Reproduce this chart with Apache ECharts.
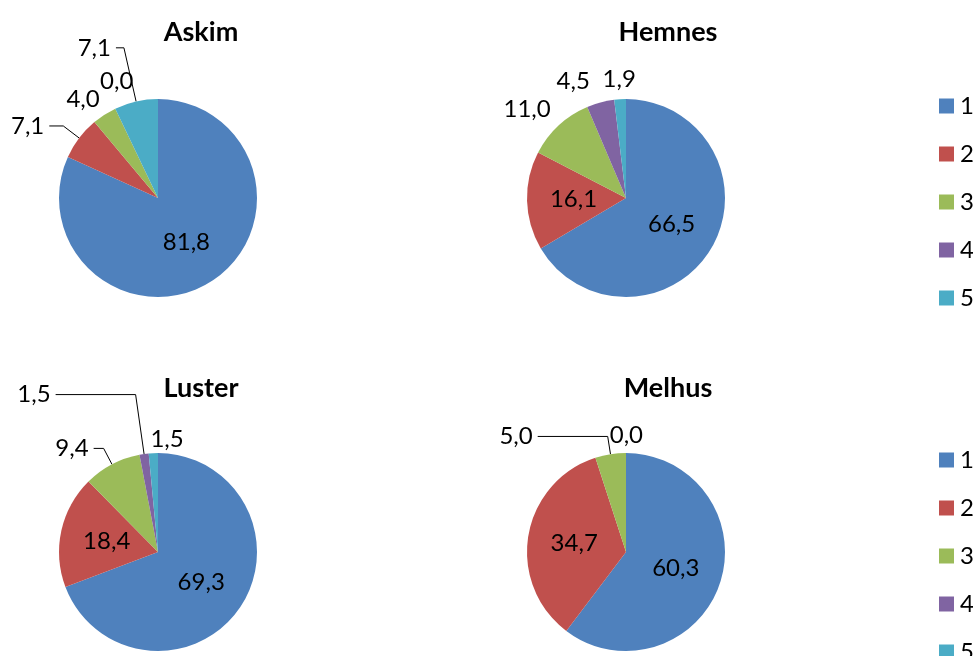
<!DOCTYPE html>
<html>
<head>
<meta charset="utf-8">
<script src="https://cdn.jsdelivr.net/npm/echarts@6/dist/echarts.min.js"></script>
<style>
  html, body { margin: 0; padding: 0; background: #fff; }
  #main { width: 973px; height: 656px; }
</style>
</head>
<body>
<div id="main"></div>
<script>
// kategorier (1-5) og verdier per kommune, i prosent
var categories = ['1', '2', '3', '4', '5'];
var askim  = [81.8, 7.1, 4.0, 0.0, 7.1];
var hemnes = [66.5, 16.1, 11.0, 4.5, 1.9];
var luster = [69.3, 18.4, 9.4, 1.5, 1.5];
var melhus = [60.3, 34.7, 5.0, 0.0, null];
var names  = ['Askim', 'Hemnes', 'Luster', 'Melhus'];
var colors = ['#4F81BD', '#C0504D', '#9BBB59', '#8064A2', '#4BACC6'];

var font = 'Lato, "Open Sans", sans-serif';
// plassering av etikettlinjer (som i Excel-utgaven)
var pies = [
  { values: askim,  center: [158, 198], len: [0, 20, 18, 30, 55], len2: [0, 14, 0, 0, 8],  line: [0, 1, 0, 0, 1], dx: [0, 0, 10, 36, 0] },
  { values: hemnes, center: [626, 198], len: [0, 0, 22, 22, 20],  len2: [0, 0, 0, 0, 2],   line: [0, 0, 0, 0, 0], dx: [0, 0, 12, 0, 24] },
  { values: luster, center: [158, 552], len: [0, 0, 18, 60, 14],  len2: [0, 0, 10, 80, 0], line: [0, 0, 1, 1, 0], dx: [0, 0, 0, 0, 36] },
  { values: melhus, center: [626, 552], len: [0, 0, 18, 18, 0],   len2: [0, 0, 70, 0, 0],  line: [0, 0, 1, 0, 0], dx: [0, 0, 0, 22, 0] }
];

function fmt(v) { return v.toFixed(1).replace('.', ','); }

var chart = echarts.init(document.getElementById('main'));

var series = pies.map(function (p, k) {
  return {
    name: names[k],
    type: 'pie',
    center: p.center,
    radius: 99,
    startAngle: 90,
    clockwise: true,
    avoidLabelOverlap: false,
    animation: false,
    itemStyle: { borderWidth: 0 },
    labelLine: { lineStyle: { color: '#000', width: 1 } },
    labelLayout: function (params) {
      var o = { hideOverlap: false };
      if (p.dx[params.dataIndex]) o.dx = p.dx[params.dataIndex];
      return o;
    },
    data: p.values.map(function (v, i) {
      var big = v != null && v >= 15;
      return {
        name: categories[i],
        value: v,
        label: {
          show: v != null,
          position: big ? 'inside' : 'outside',
          formatter: function (d) { return fmt(d.value); },
          color: '#000',
          fontSize: 24,
          fontFamily: font,
          overflow: 'none'
        },
        labelLine: { show: !big && !!p.line[i], length: p.len[i], length2: p.len2[i] }
      };
    })
  };
});

chart.setOption({
  backgroundColor: '#fff',
  color: colors,
  title: [
    { text: 'Askim',  left: 196, top: 14 },
    { text: 'Hemnes', left: 663, top: 14 },
    { text: 'Luster', left: 196, top: 370 },
    { text: 'Melhus', left: 663, top: 370 }
  ].map(function (t) {
    t.textAlign = 'center';
    t.textStyle = { fontSize: 27, fontWeight: 'bold', color: '#000', fontFamily: font };
    return t;
  }),
  legend: [
    { top: 89 },
    { top: 443 }
  ].map(function (l) {
    return {
      data: categories,
      orient: 'vertical',
      left: 934,
      top: l.top,
      height: 300,
      icon: 'rect',
      itemWidth: 15,
      itemHeight: 15,
      itemGap: 24,
      textStyle: { fontSize: 24, color: '#000', fontFamily: font, padding: [0, 0, 0, 1] }
    };
  }),
  series: series
});
</script>
</body>
</html>
